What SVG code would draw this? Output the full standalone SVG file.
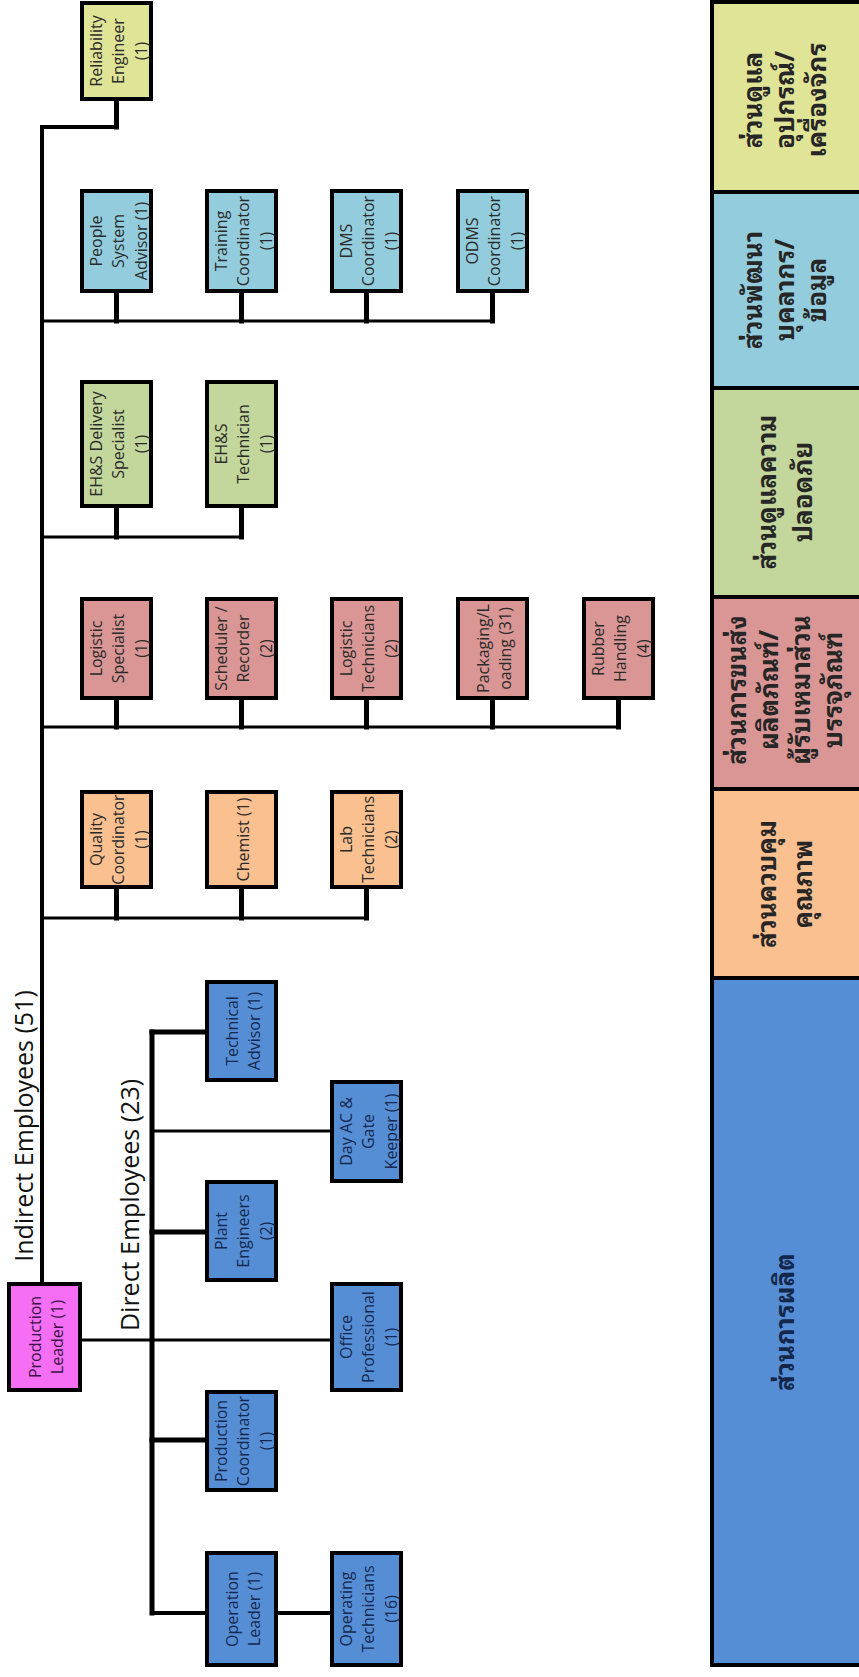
<svg xmlns="http://www.w3.org/2000/svg" width="859" height="1677" viewBox="0 0 859 1677">
<style>
.n rect{stroke:#000;stroke-width:4}
.t{font-family:"Open Sans","Liberation Sans",sans-serif;font-size:16px;text-anchor:middle;fill:#2a2a2a}
.tb{fill:#16284f}
.h{font-family:"Open Sans","Liberation Sans",sans-serif;font-size:25px;text-anchor:middle;fill:#111}
.lg rect{stroke:#000;stroke-width:4}
.th{font-family:"Noto Sans Thai Looped","Noto Serif Thai","Noto Sans","DejaVu Sans",sans-serif;font-size:26px;font-weight:bold;text-anchor:middle;fill:#262626}
.c{stroke:#000;fill:none;stroke-linecap:square}
.yel{fill:#e0e496}.lb{fill:#93cddd}.gr{fill:#c3d69b}.pk{fill:#d99694}.or{fill:#fac090}.bl{fill:#558ed5}.mg{fill:#f56ef3}
</style>
<rect x="0" y="0" width="859" height="1677" fill="#fff"/>

<g id="connectors">
  <path class="c" stroke-width="4" d="M42 127V1283"/>
  <path class="c" stroke-width="4" d="M42 127H116.5"/>
  <path class="c" stroke-width="5" d="M116.5 101V127"/>
  <path class="c" stroke-width="3" d="M42 321H492.5"/>
  <path class="c" stroke-width="5" d="M116.5 293V321M241.5 293V321M366.5 293V321M492.5 293V321"/>
  <path class="c" stroke-width="3" d="M42 537H241.5"/>
  <path class="c" stroke-width="5" d="M116.5 508V537M241.5 508V537"/>
  <path class="c" stroke-width="3" d="M42 727H618.5"/>
  <path class="c" stroke-width="5" d="M116.5 700V727M241.5 700V727M366.5 700V727M492.5 700V727M618.5 700V727"/>
  <path class="c" stroke-width="3" d="M42 918H366.5"/>
  <path class="c" stroke-width="5" d="M116.5 889V918M241.5 889V918M366.5 889V918"/>
  <path class="c" stroke-width="5" d="M152 1032V1613"/>
  <path class="c" stroke-width="5" d="M152 1032H205"/>
  <path class="c" stroke-width="3" d="M152 1131H330"/>
  <path class="c" stroke-width="5" d="M152 1232H205"/>
  <path class="c" stroke-width="3" d="M82 1340H330"/>
  <path class="c" stroke-width="5" d="M152 1440H205"/>
  <path class="c" stroke-width="4" d="M152 1613H205M278 1613H330"/>
</g>

<text class="h" transform="translate(33,1126) rotate(-90)">Indirect Employees (51)</text>
<text class="h" transform="translate(139,1205) rotate(-90)">Direct Employees (23)</text>

<g id="reliability" class="n"><rect class="yel" x="82" y="3" width="69" height="96"/>
<text class="t" transform="translate(118.5,51) rotate(-90)"><tspan x="0" y="-17">Reliability</tspan><tspan x="0" y="5.5">Engineer</tspan><tspan x="0" y="28">(1)</tspan></text></g>

<g id="people" class="n"><rect class="lb" x="82" y="191" width="69" height="100"/>
<text class="t" transform="translate(118.5,241) rotate(-90)"><tspan x="0" y="-17">People</tspan><tspan x="0" y="5.5">System</tspan><tspan x="0" y="28">Advisor (1)</tspan></text></g>
<g id="training" class="n"><rect class="lb" x="207" y="191" width="69" height="100"/>
<text class="t" transform="translate(243.5,241) rotate(-90)"><tspan x="0" y="-17">Training</tspan><tspan x="0" y="5.5">Coordinator</tspan><tspan x="0" y="28">(1)</tspan></text></g>
<g id="dms" class="n"><rect class="lb" x="332" y="191" width="69" height="100"/>
<text class="t" transform="translate(368.5,241) rotate(-90)"><tspan x="0" y="-17">DMS</tspan><tspan x="0" y="5.5">Coordinator</tspan><tspan x="0" y="28">(1)</tspan></text></g>
<g id="odms" class="n"><rect class="lb" x="458" y="191" width="69" height="100"/>
<text class="t" transform="translate(494.5,241) rotate(-90)"><tspan x="0" y="-17">ODMS</tspan><tspan x="0" y="5.5">Coordinator</tspan><tspan x="0" y="28">(1)</tspan></text></g>

<g id="ehs-delivery" class="n"><rect class="gr" x="82" y="382" width="69" height="124"/>
<text class="t" transform="translate(118.5,444) rotate(-90)"><tspan x="0" y="-17">EH&amp;S Delivery</tspan><tspan x="0" y="5.5">Specialist</tspan><tspan x="0" y="28">(1)</tspan></text></g>
<g id="ehs-tech" class="n"><rect class="gr" x="207" y="382" width="69" height="124"/>
<text class="t" transform="translate(243.5,444) rotate(-90)"><tspan x="0" y="-17">EH&amp;S</tspan><tspan x="0" y="5.5">Technician</tspan><tspan x="0" y="28">(1)</tspan></text></g>

<g id="log-spec" class="n"><rect class="pk" x="82" y="599" width="69" height="99"/>
<text class="t" transform="translate(118.5,648.5) rotate(-90)"><tspan x="0" y="-17">Logistic</tspan><tspan x="0" y="5.5">Specialist</tspan><tspan x="0" y="28">(1)</tspan></text></g>
<g id="scheduler" class="n"><rect class="pk" x="207" y="599" width="69" height="99"/>
<text class="t" transform="translate(243.5,648.5) rotate(-90)"><tspan x="0" y="-17">Scheduler /</tspan><tspan x="0" y="5.5">Recorder</tspan><tspan x="0" y="28">(2)</tspan></text></g>
<g id="log-tech" class="n"><rect class="pk" x="332" y="599" width="69" height="99"/>
<text class="t" transform="translate(368.5,648.5) rotate(-90)"><tspan x="0" y="-17">Logistic</tspan><tspan x="0" y="5.5">Technicians</tspan><tspan x="0" y="28">(2)</tspan></text></g>
<g id="packaging" class="n"><rect class="pk" x="458" y="599" width="69" height="99"/>
<text class="t" transform="translate(494.5,648.5) rotate(-90)"><tspan x="0" y="-5.75">Packaging/L</tspan><tspan x="0" y="16.75">oading (31)</tspan></text></g>
<g id="rubber" class="n"><rect class="pk" x="584" y="599" width="69" height="99"/>
<text class="t" transform="translate(620.5,648.5) rotate(-90)"><tspan x="0" y="-17">Rubber</tspan><tspan x="0" y="5.5">Handling</tspan><tspan x="0" y="28">(4)</tspan></text></g>

<g id="quality" class="n"><rect class="or" x="82" y="792" width="69" height="95"/>
<text class="t" transform="translate(118.5,839.5) rotate(-90)"><tspan x="0" y="-17">Quality</tspan><tspan x="0" y="5.5">Coordinator</tspan><tspan x="0" y="28">(1)</tspan></text></g>
<g id="chemist" class="n"><rect class="or" x="207" y="792" width="69" height="95"/>
<text class="t" transform="translate(243.5,839.5) rotate(-90)"><tspan x="0" y="5.5">Chemist (1)</tspan></text></g>
<g id="lab" class="n"><rect class="or" x="332" y="792" width="69" height="95"/>
<text class="t" transform="translate(368.5,839.5) rotate(-90)"><tspan x="0" y="-17">Lab</tspan><tspan x="0" y="5.5">Technicians</tspan><tspan x="0" y="28">(2)</tspan></text></g>

<g id="technical" class="n"><rect class="bl" x="207" y="982" width="69" height="98"/>
<text class="t tb" transform="translate(243.5,1031) rotate(-90)"><tspan x="0" y="-5.75">Technical</tspan><tspan x="0" y="16.75">Advisor (1)</tspan></text></g>
<g id="dayac" class="n"><rect class="bl" x="332" y="1082" width="69" height="99"/>
<text class="t tb" transform="translate(368.5,1131.5) rotate(-90)"><tspan x="0" y="-17">Day AC &amp;</tspan><tspan x="0" y="5.5">Gate</tspan><tspan x="0" y="28">Keeper (1)</tspan></text></g>
<g id="plant" class="n"><rect class="bl" x="207" y="1182" width="69" height="98"/>
<text class="t tb" transform="translate(243.5,1231) rotate(-90)"><tspan x="0" y="-17">Plant</tspan><tspan x="0" y="5.5">Engineers</tspan><tspan x="0" y="28">(2)</tspan></text></g>
<g id="prod-leader" class="n"><rect class="mg" x="9" y="1284" width="71" height="106"/>
<text class="t" style="fill:#3a1446" transform="translate(46.5,1337) rotate(-90)"><tspan x="0" y="-5.75">Production</tspan><tspan x="0" y="16.75">Leader (1)</tspan></text></g>
<g id="office" class="n"><rect class="bl" x="332" y="1284" width="69" height="106"/>
<text class="t tb" transform="translate(368.5,1337) rotate(-90)"><tspan x="0" y="-17">Office</tspan><tspan x="0" y="5.5">Professional</tspan><tspan x="0" y="28">(1)</tspan></text></g>
<g id="prod-coord" class="n"><rect class="bl" x="207" y="1392" width="69" height="98"/>
<text class="t tb" transform="translate(243.5,1441) rotate(-90)"><tspan x="0" y="-17">Production</tspan><tspan x="0" y="5.5">Coordinator</tspan><tspan x="0" y="28">(1)</tspan></text></g>
<g id="op-leader" class="n"><rect class="bl" x="207" y="1553" width="69" height="112"/>
<text class="t tb" transform="translate(243.5,1609) rotate(-90)"><tspan x="0" y="-5.75">Operation</tspan><tspan x="0" y="16.75">Leader (1)</tspan></text></g>
<g id="op-tech" class="n"><rect class="bl" x="332" y="1553" width="69" height="112"/>
<text class="t tb" transform="translate(368.5,1609) rotate(-90)"><tspan x="0" y="-17">Operating</tspan><tspan x="0" y="5.5">Technicians</tspan><tspan x="0" y="28">(16)</tspan></text></g>

<g id="legend" class="lg">
  <g id="lg-maint"><rect class="yel" x="712" y="2" width="160" height="190"/>
  <text class="th" transform="translate(788,100) rotate(-90)"><tspan x="0" y="-26">ส่วนดูแล</tspan><tspan x="0" y="6">อุปกรณ์/</tspan><tspan x="0" y="38">เครื่องจักร</tspan></text></g>
  <g id="lg-people"><rect class="lb" x="712" y="192" width="160" height="196"/>
  <text class="th" transform="translate(788,290) rotate(-90)"><tspan x="0" y="-26">ส่วนพัฒนา</tspan><tspan x="0" y="6">บุคลากร/</tspan><tspan x="0" y="38">ข้อมูล</tspan></text></g>
  <g id="lg-safety"><rect class="gr" x="712" y="388" width="160" height="209"/>
  <text class="th" transform="translate(788,492) rotate(-90)"><tspan x="0" y="-12">ส่วนดูแลความ</tspan><tspan x="0" y="24">ปลอดภัย</tspan></text></g>
  <g id="lg-logistic"><rect class="pk" x="712" y="597" width="160" height="192"/>
  <text class="th" transform="translate(788,690) rotate(-90)"><tspan x="0" y="-42">ส่วนการขนส่ง</tspan><tspan x="0" y="-10">ผลิตภัณฑ์/</tspan><tspan x="0" y="22">ผู้รับเหมาส่วน</tspan><tspan x="0" y="54">บรรจุภัณฑ์</tspan></text></g>
  <g id="lg-quality"><rect class="or" x="712" y="789" width="160" height="189"/>
  <text class="th" transform="translate(788,884) rotate(-90)"><tspan x="0" y="-12">ส่วนควบคุม</tspan><tspan x="0" y="24">คุณภาพ</tspan></text></g>
  <g id="lg-production"><rect class="bl" x="712" y="978" width="160" height="687"/>
  <text class="th" style="fill:#14264a" transform="translate(788,1322) rotate(-90)"><tspan x="0" y="6">ส่วนการผลิต</tspan></text></g>
</g>
</svg>
